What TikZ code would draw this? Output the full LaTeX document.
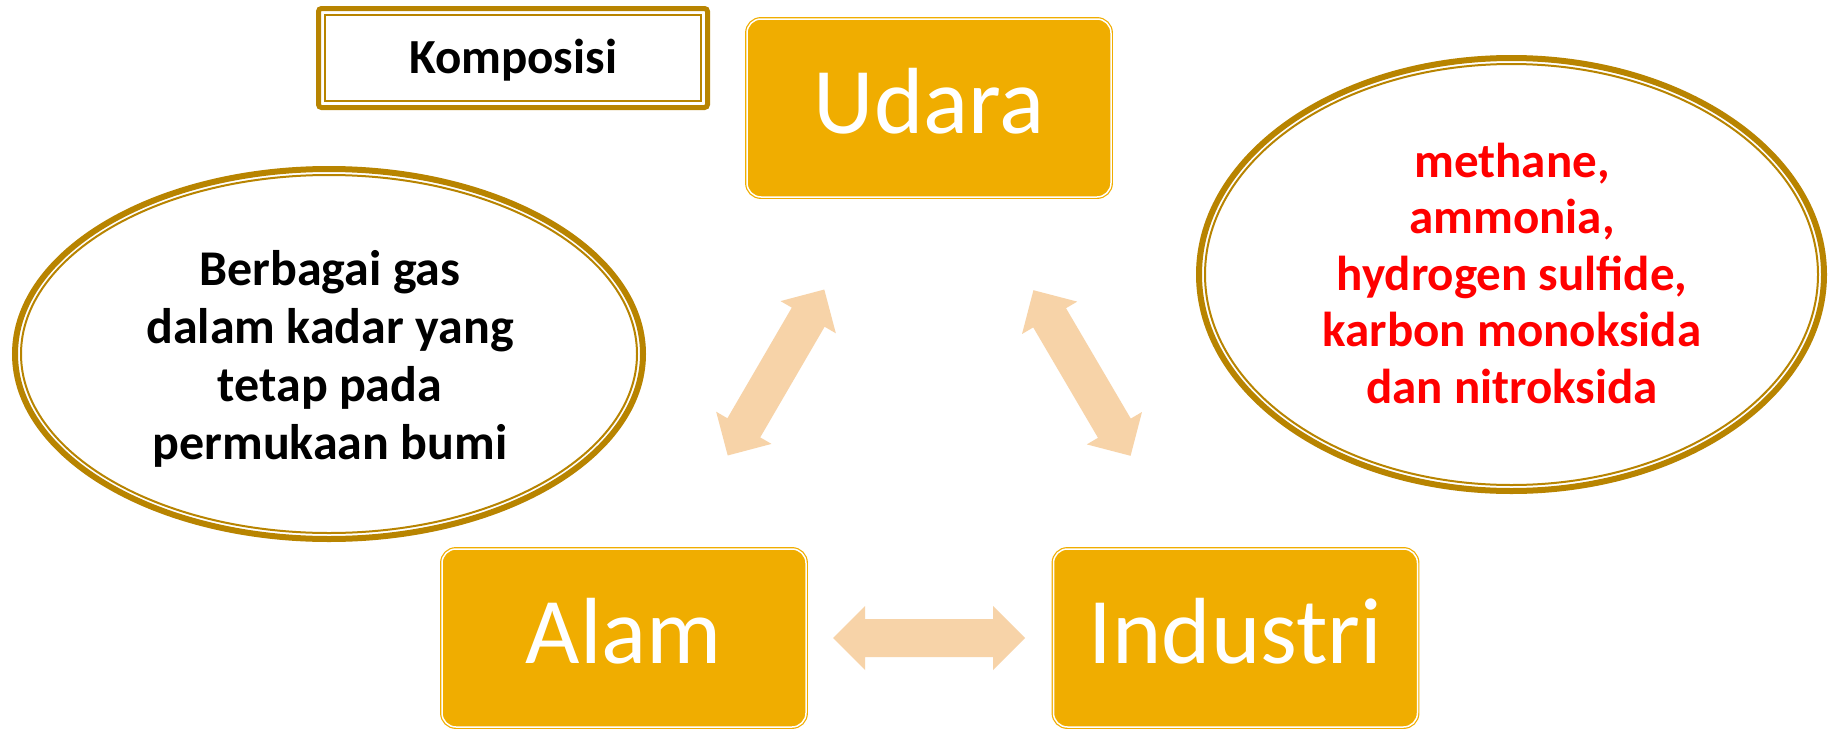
\documentclass[tikz,border=0pt]{standalone}
\usepackage{fontspec}
\setmainfont{Carlito}
\usetikzlibrary{shapes.geometric}
\definecolor{boxgold}{RGB}{240,173,0}
\definecolor{rimgold}{RGB}{184,132,0}
\definecolor{peach}{RGB}{247,211,168}
\definecolor{txtred}{RGB}{255,0,0}
\begin{document}
\begin{tikzpicture}[x=1pt,y=-1pt,
  mainbox/.style={draw=boxgold, double=white, double distance=1.5pt, line width=1.2pt,
    fill=boxgold, rounded corners=14pt, minimum width=364pt, minimum height=178pt,
    inner sep=0pt, outer sep=0pt, text=white, font=\fontsize{94}{100}\selectfont,
    text height=59pt, text depth=9pt},
  rimellipse/.style={ellipse, draw=rimgold, line width=6pt, inner sep=0pt, outer sep=0pt},
  rimthin/.style={draw=rimgold, line width=2pt},
  ovaltext/.style={align=center, font=\bfseries\fontsize{50}{58}\selectfont},
  blockarrow/.style={fill=peach}
]
\useasboundingbox (0,0) rectangle (1833,728);
\fill[white] (0,0) rectangle (1833,728);

% title box
\node[draw=rimgold, line width=5pt, rounded corners=3pt, minimum width=389pt, minimum height=99pt,
  inner sep=0pt, outer sep=0pt, font=\bfseries\fontsize{49}{55}\selectfont,
  text height=31pt, text depth=0pt] (komp) at (513,58) {Komposisi};
\draw[rimgold, line width=2pt] ([shift={(6.5,6.5)}]komp.north west) rectangle ([shift={(-6.5,-6.5)}]komp.south east);

% main boxes
\node[mainbox] (udara) at (929,108) {Udara};
\node[mainbox] (alam) at (624,638) {Alam};
\node[mainbox] (industri) at (1235.5,638) {Industri};

% left ellipse
\node[rimellipse, minimum width=628pt, minimum height=370pt] (lell) at (329,354) {};
\draw[rimthin] (lell.center) ellipse [x radius=308, y radius=179];
\node[ovaltext] (ltext) at (330,359) {Berbagai gas\\dalam kadar yang\\tetap pada\\permukaan bumi};

% right ellipse
\node[rimellipse, minimum width=625pt, minimum height=433pt] (rell) at (1511.5,274.5) {};
\draw[rimthin] (rell.center) ellipse [x radius=306.5, y radius=210.5];
\node[ovaltext, text=txtred, font=\bfseries\fontsize{49}{56.5}\selectfont] (rtext) at (1512,273)
  {methane,\\ammonia,\\hydrogen sulfide,\\karbon monoksida\\dan nitroksida};

% block arrows
\coordinate (a1) at (776,372.5);
\coordinate (a2) at (1082,373);
\coordinate (a3) at (929,638);
\foreach \c/\ang in {a1/59.8, a2/-59.6, a3/0}{
  \fill[blockarrow, shift={(\c)}, rotate=\ang]
    (-96,0) -- (-64,32) -- (-64,19) -- (64,19) -- (64,32) -- (96,0)
    -- (64,-32) -- (64,-19) -- (-64,-19) -- (-64,-32) -- cycle;
}
\end{tikzpicture}
\end{document}
